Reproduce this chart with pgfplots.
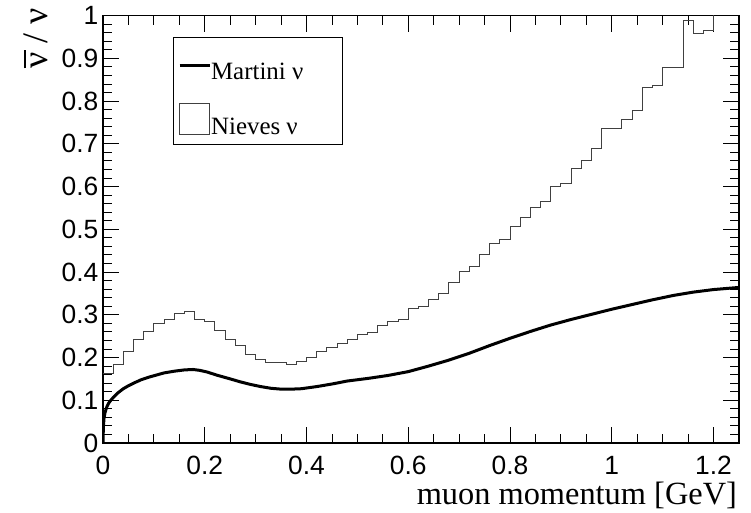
\documentclass[border=0pt]{standalone}
\usepackage{pgfplots}
\usepackage{pgfplotstable}
\pgfplotsset{compat=1.18}
\usepackage{fontspec}
\setmainfont{Liberation Serif}
\newfontfamily\sansf{Liberation Sans}

\pgfplotstableread{
x y
0.00 0.163
0.02 0.184
0.04 0.213
0.06 0.242
0.08 0.261
0.10 0.279
0.12 0.290
0.14 0.304
0.16 0.307
0.18 0.289
0.20 0.284
0.22 0.264
0.24 0.241
0.26 0.229
0.28 0.207
0.30 0.195
0.32 0.188
0.34 0.188
0.36 0.184
0.38 0.190
0.40 0.200
0.42 0.214
0.44 0.224
0.46 0.233
0.48 0.241
0.50 0.255
0.52 0.258
0.54 0.274
0.56 0.284
0.58 0.288
0.60 0.315
0.62 0.319
0.64 0.335
0.66 0.350
0.68 0.376
0.70 0.401
0.72 0.413
0.74 0.440
0.76 0.466
0.78 0.477
0.80 0.506
0.82 0.527
0.84 0.552
0.86 0.566
0.88 0.600
0.90 0.607
0.92 0.643
0.94 0.660
0.96 0.688
0.98 0.736
1.00 0.736
1.02 0.758
1.04 0.779
1.06 0.831
1.08 0.837
1.10 0.878
1.12 0.878
1.14 0.989
1.16 0.958
1.18 0.965
1.20 1.100
1.22 1.100
1.25 1.100
}\nieves

\pgfplotstableread{
x y
0 0
0.0005 0.025
0.001 0.042
0.002 0.058
0.004 0.071
0.007 0.083
0.011 0.093
0.016 0.101
0.023 0.110
0.030 0.118
0.040 0.127
0.050 0.134
0.062 0.141
0.075 0.148
0.090 0.154
0.105 0.159
0.120 0.164
0.140 0.168
0.160 0.171
0.177 0.172
0.190 0.170
0.205 0.166
0.223 0.159
0.25 0.150
0.27 0.143
0.29 0.137
0.31 0.132
0.33 0.128
0.35 0.126
0.37 0.126
0.39 0.127
0.42 0.132
0.45 0.138
0.48 0.145
0.52 0.151
0.56 0.158
0.60 0.167
0.64 0.180
0.68 0.194
0.72 0.210
0.76 0.228
0.80 0.245
0.84 0.261
0.88 0.276
0.92 0.289
0.96 0.301
1.00 0.313
1.04 0.324
1.08 0.335
1.12 0.345
1.16 0.353
1.20 0.359
1.25 0.364
}\martini

\begin{document}
\begin{tikzpicture}
\begin{axis}[
  scale only axis, width=636bp, height=427.4bp,
  xmin=0, xmax=1.25, ymin=0, ymax=1,
  xtick={0,0.2,0.4,0.6,0.8,1,1.2},
  ytick={0,0.1,0.2,0.3,0.4,0.5,0.6,0.7,0.8,0.9,1},
  minor x tick num=3, minor y tick num=4,
  tick align=inside, tick pos=both,
  major tick length=16bp, minor tick length=9bp,
  axis line style={line width=1.2bp},
  every tick/.style={black, line width=0.9bp},
  ticklabel style={font=\fontsize{26.5}{26.5}\selectfont\sansf},
  /pgf/number format/assume math mode=true,
  yticklabel style={inner sep=0pt, xshift=-4.5bp},
  xticklabel style={inner sep=0pt, yshift=-13bp},
  xlabel={muon momentum [GeV]},
  xlabel style={font=\fontsize{32.5}{32.5}\selectfont, inner sep=0pt, at={(axis description cs:0.997,-0.143)}, anchor=base east},
  ylabel={\leavevmode\rlap{\raisebox{0.62em}{\rule{0.5em}{0.055em}}}ν / ν},
  ylabel style={font=\fontsize{36}{36}\selectfont, inner sep=0pt, at={(axis description cs:-0.0865,1.018)}, anchor=base east},
  legend style={at={(axis cs:0.137,0.949)}, anchor=north west, draw=black, line width=0.8bp,
    font=\fontsize{25}{25}\selectfont, inner xsep=5bp, inner ysep=0bp, row sep=0bp,
    nodes={inner sep=0pt},
    /tikz/every even column/.append style={column sep=4bp}},
  legend cell align=left,
]
\addplot[black, line width=3bp, legend image code/.code={\path[draw=none, fill=none] (0bp,-25.1bp) rectangle (30bp,40.4bp);\draw[black, line width=3bp] (0bp,12.7bp) -- (30bp,12.7bp);}] table[x=x, y=y] {\martini};
\addlegendentry{\raisebox{0pt}[5bp][5bp]{\makebox[126bp][l]{Martini ν}}}
\addplot[const plot mark left, black!75, line width=1bp, legend image code/.code={\path[draw=none, fill=none] (0bp,-11.6bp) rectangle (30bp,29.9bp);\draw[black!75, line width=1bp] (0bp,-1.6bp) rectangle (30bp,29.4bp);}] table[x=x, y=y] {\nieves};
\addlegendentry{\raisebox{0pt}[5bp][5bp]{\makebox[126bp][l]{Nieves ν}}}
\coordinate (sw) at (rel axis cs:0,0);
\coordinate (ne) at (rel axis cs:1,1);
\end{axis}
\pgfresetboundingbox
\path ([shift={(-103bp,-70bp)}]sw) rectangle ([shift={(12bp,15.6bp)}]ne);
\end{tikzpicture}
\end{document}
